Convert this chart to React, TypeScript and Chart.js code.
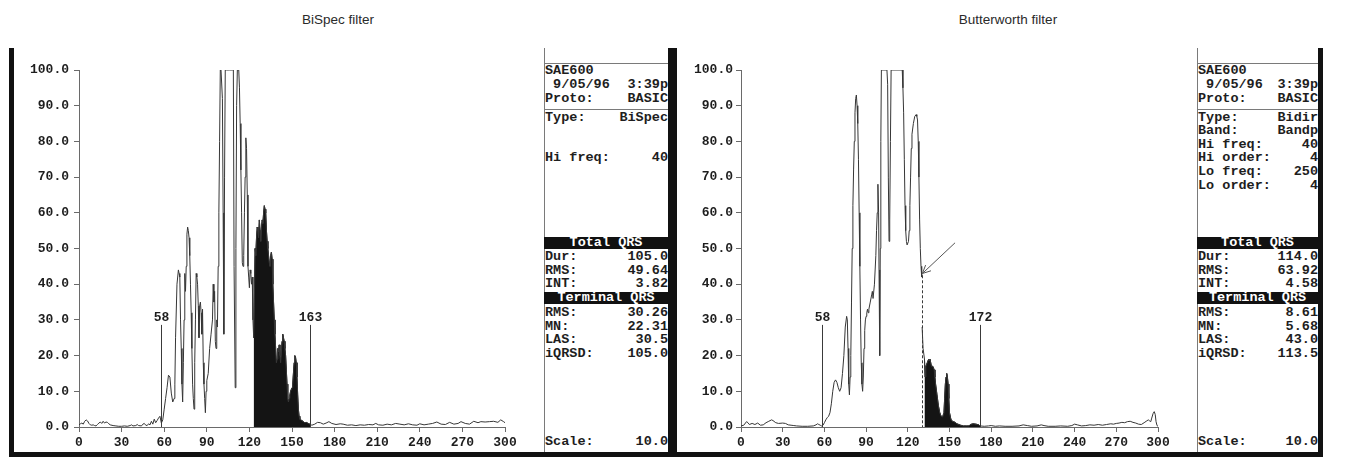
import React, { useEffect, useRef } from "react";
import { Chart, registerables } from "chart.js";

Chart.register(...registerables);

type Pt = [number, number | null];

const xTickValues = [0, 30, 60, 90, 120, 150, 180, 210, 240, 270, 300];
const yTickValues = [0, 10, 20, 30, 40, 50, 60, 70, 80, 90, 100];
const yTickLabels = ["0.0", "10.0", "20.0", "30.0", "40.0", "50.0", "60.0", "70.0", "80.0", "90.0", "100.0"];

const bispecTrace: Pt[] = [
  [0, 0.6], [1, 0.9], [2, 1.1], [3, 0.8], [4, 1.6], [5, 2.0], [6, 1.7], [7, 1.0], [8, 0.6], [9, 0.5], [10, 0.6],
  [11, 0.4], [12, 0.3], [13, 0.7], [14, 1.1], [15, 1.4], [16, 1.0], [17, 1.6], [18, 1.1], [19, 1.4], [20, 1.3],
  [21, 0.9], [22, 0.6], [24, 0.4], [26, 0.3], [28, 0.2], [30, 0.2], [32, 0.3], [34, 0.2], [36, 0.4], [37, 0.6],
  [38, 0.3], [40, 0.4], [41, 0.7], [42, 0.4], [44, 0.3], [45, 0.8], [46, 1.0], [47, 0.5], [48, 0.4], [49, 0.9],
  [50, 0.6], [51, 1.6], [52, 0.8], [53, 2.2], [54, 1.2], [55, 1.8], [56, 2.5], [57, 3.0], [58, 1.1], [59, 2.0],
  [60, 5], [61, 8], [62, 11], [63, 14.5], [64, 14], [65, 9.5], [66, 7], [67, 8], [67.5, 12], [68, 25], [69, 40],
  [70, 44], [70.5, 43], [71, 42], [71.5, 30], [72, 22], [72.5, 12], [73, 7], [73.5, 18], [74, 30], [74.5, 43],
  [75, 38], [75.5, 45], [76, 54], [76.5, 56], [77, 55], [77.5, 53], [78, 48], [78.5, 40], [79, 32], [79.5, 22],
  [80, 12], [80.5, 8], [81, 5], [81.5, 18], [82, 30], [82.5, 43], [83, 42], [83.5, 40], [84, 34], [84.5, 25],
  [85, 34], [85.5, 35], [86, 32], [86.5, 26], [87, 33], [87.5, 18], [88, 12], [88.5, 8], [89, 4], [89.5, 10],
  [90, 13], [91, 15], [92, 22], [93, 26], [94, 30], [94.5, 40], [95, 35], [95.5, 38], [96, 24], [96.5, 22],
  [97, 30], [97.5, 28], [98, 45], [98.5, 60], [99, 80], [99.5, 100], [100, 100], [100.5, 100], [101, 92],
  [101.5, 60], [102, 26], [102.5, 70], [103, 100], [104, 100], [105, 100], [106, 100], [107, 100], [108, 100],
  [108.7, 100], [109.2, 45], [110, 11], [110.5, 50], [111, 90], [111.5, 100], [112.5, 100], [113, 95],
  [113.5, 85], [114, 72], [114.5, 60], [115, 46], [115.5, 45], [116, 48], [116.5, 60], [117, 70], [117.5, 81],
  [118, 78], [118.5, 65], [119, 45], [119.5, 42], [120, 39], [120.5, 44], [121, 43], [121.5, 40], [122, 42],
  [122.5, 30], [123, 25], [123.5, 35], [124, 50], [124.5, 48], [125, 53], [125.5, 56], [126, 55], [126.5, 53],
  [127, 58], [127.5, 55], [128, 52], [128.5, 56], [129, 58], [129.5, 57], [130, 60], [130.5, 62], [131, 61],
  [131.5, 60], [132, 55], [132.5, 52], [133, 50], [134, 46], [134.5, 45], [135, 48], [135.5, 49], [136, 47],
  [136.5, 40], [137, 35], [137.5, 30], [138, 26], [138.5, 22], [139, 18], [139.5, 19], [140, 22], [140.5, 21],
  [141, 23], [141.5, 20], [142, 18], [142.5, 21], [143, 24], [143.5, 26], [144, 25], [144.5, 24], [145, 22],
  [145.5, 20], [146, 16], [146.5, 12], [147, 8], [147.5, 7], [148, 8], [148.5, 9], [149, 10], [150, 11],
  [150.5, 12], [151, 15], [151.5, 18], [152, 20], [152.5, 19.5], [153, 18], [153.5, 14], [154, 9], [154.5, 5],
  [155, 3], [155.5, 2.2], [156, 2], [157, 1.8], [158, 1.5], [159, 1.2], [160, 1.3], [161, 1.1], [162, 0.9],
  [163, 0.7], [164, 0.5], [166, 0.8], [168, 1.3], [170, 1.2], [172, 0.8], [174, 1.1], [176, 1.5], [178, 1.0],
  [181, 0.7], [184, 0.9], [186, 0.8], [189, 0.5], [192, 0.6], [195, 0.4], [198, 0.6], [201, 0.5], [204, 0.7],
  [207, 0.6], [209, 1.0], [211, 0.6], [214, 0.5], [217, 0.8], [220, 0.6], [223, 1.0], [226, 0.8], [229, 0.6],
  [232, 0.9], [235, 0.6], [238, 0.5], [240, 0.9], [243, 0.6], [246, 0.8], [249, 1.0], [252, 1.4], [255, 0.8],
  [258, 0.7], [261, 1.3], [264, 0.8], [267, 1.0], [269, 1.5], [272, 1.0], [275, 0.8], [278, 1.6], [281, 1.2],
  [283, 1.5], [286, 1.4], [289, 1.5], [292, 1.6], [295, 1.3], [297, 2.0], [299, 1.5], [300, 1.2],
];

const butterTrace: Pt[] = [
  [0, 0.3], [2, 0.5], [4, 1.5], [5, 1.2], [6, 0.7], [8, 1.0], [10, 0.7], [12, 1.1], [14, 0.5], [16, 0.6],
  [18, 1.2], [20, 1.6], [22, 2.0], [23, 1.8], [25, 1.2], [27, 1.0], [30, 1.1], [32, 1.0], [34, 0.6], [36, 0.5],
  [38, 0.4], [40, 0.3], [44, 0.2], [48, 0.2], [52, 0.3], [54, 0.6], [55, 0.9], [56, 0.7], [57, 0.5], [58, 0.3],
  [59, 0.5], [60, 1.2], [61, 2.0], [62, 2.6], [63, 3.0], [64, 4.0], [65, 6.5], [66, 10], [67, 12.5], [68, 13.2],
  [69, 12.5], [70, 11], [71, 10], [72, 11], [73, 15], [74, 20], [75, 28], [76, 31], [76.5, 30], [77, 22],
  [77.5, 12], [78, 9], [78.5, 14], [79, 20], [79.5, 35], [80, 50], [80.5, 62], [81, 72], [81.5, 80], [82, 88],
  [82.5, 92], [83, 93], [83.5, 90], [84, 85], [84.5, 75], [85, 60], [85.5, 45], [86, 30], [86.5, 18], [87, 12],
  [87.5, 10], [88, 14], [88.5, 22], [89, 27], [89.5, 30], [90, 31], [90.5, 32], [91, 33], [91.5, 32], [92, 33],
  [93, 35], [94, 37], [94.5, 38], [95, 36], [96, 40], [97, 48], [97.5, 55], [98, 60], [98.5, 68], [99, 60],
  [99.3, 44], [99.8, 20], [100.2, 50], [100.6, 80], [101, 100], [105, 100], [105.5, 96], [106, 70], [106.5, 52],
  [107, 58], [107.5, 80], [108, 100], [116, 100], [116.5, 95], [117, 88], [117.5, 75], [118, 62], [118.5, 55],
  [119, 52], [119.5, 51], [120, 51], [120.5, 52], [121, 55], [121.5, 62], [122, 70], [122.5, 78], [123, 82],
  [124, 85], [125, 87], [126, 87.5], [126.5, 87], [127, 86], [127.5, 80], [128, 70], [128.5, 58], [129, 50],
  [129.5, 45], [130, 42], [130.15, null], [130.3, 28], [131, 22], [132, 19], [132.5, 14], [133, 17], [134, 18],
  [135, 19], [135.5, 18.5], [136, 19], [137, 17], [138, 17], [139, 16], [139.5, 14], [140, 12], [141, 9],
  [142, 6], [143, 4], [144, 3], [145, 2.8], [146, 4], [146.5, 8], [147, 12], [147.5, 14], [148, 15], [148.5, 14],
  [149, 12], [149.5, 8], [150, 4], [151, 2.2], [152, 1.6], [153, 1.5], [154, 1.3], [155, 1.0], [156, 0.8],
  [158, 0.5], [160, 0.3], [162, 0.3], [164, 0.3], [165, 0.7], [167, 0.9], [169, 0.8], [171, 0.6], [172, 0.3],
  [175, 0.2], [178, 0.3], [180, 0.4], [183, 0.2], [186, 0.3], [190, 0.2], [195, 0.2], [200, 0.3], [203, 0.6],
  [206, 0.4], [209, 0.2], [213, 0.3], [216, 0.6], [218, 0.4], [221, 0.2], [226, 0.2], [230, 0.3], [235, 0.2],
  [238, 0.4], [240, 0.8], [242, 0.6], [245, 0.3], [248, 0.4], [251, 0.6], [254, 0.5], [257, 0.7], [260, 0.5],
  [263, 0.7], [266, 0.9], [268, 0.8], [270, 1.0], [272, 1.1], [274, 1.3], [276, 1.2], [278, 1.5], [280, 1.6],
  [282, 1.3], [284, 1.1], [286, 0.8], [288, 0.7], [290, 1.2], [291.5, 1.6], [293, 2.0], [294, 1.7], [294.8, 1.5],
  [295.5, 2.5], [296.5, 3.8], [297.3, 4.3], [298, 3.5], [298.6, 1.5], [299.3, 0.4], [300, 0.2],
];

const bispecTerminal = [123, 163];
const butterTerminal = [132, 172];
const bispecMarkers = [58, 163];
const butterMarkers = [58, 172];
const markerTop = 28.6;
const butterDash = { x: 130, top: 42.5 };
const butterArrow = { fromX: 154, fromY: 51.6, toX: 130.5, toY: 43 };

const bispecHeader: [string, string][] = [["SAE600", ""], [" 9/05/96", "3:39p"], ["Proto:", "BASIC"]];
const bispecSettings: [string, string][] = [["Type:", "BiSpec"], ["", ""], ["", ""], ["Hi freq:", "40"]];
const bispecTotal: [string, string][] = [["Dur:", "105.0"], ["RMS:", "49.64"], ["INT:", "3.82"]];
const bispecTermRows: [string, string][] = [["RMS:", "30.26"], ["MN:", "22.31"], ["LAS:", "30.5"], ["iQRSD:", "105.0"]];
const bispecScale: [string, string] = ["Scale:", "10.0"];

const butterHeader: [string, string][] = [["SAE600", ""], [" 9/05/96", "3:39p"], ["Proto:", "BASIC"]];
const butterSettings: [string, string][] = [
  ["Type:", "Bidir"], ["Band:", "Bandp"], ["Hi freq:", "40"], ["Hi order:", "4"], ["Lo freq:", "250"], ["Lo order:", "4"],
];
const butterTotal: [string, string][] = [["Dur:", "114.0"], ["RMS:", "63.92"], ["INT:", "4.58"]];
const butterTermRows: [string, string][] = [["RMS:", "8.61"], ["MN:", "5.68"], ["LAS:", "43.0"], ["iQRSD:", "113.5"]];
const butterScale: [string, string] = ["Scale:", "10.0"];

const MONO = '"Liberation Mono", "DejaVu Sans Mono", monospace';
const AXIS_COLOR = "#6a6a6a";
const TEXT_COLOR = "#1e1e1e";

interface ChartProps {
  left: number;
  top: number;
  width: number;
  height: number;
  axisWidth: number;
  padRight: number;
  labelPad: number;
  trace: Pt[];
  terminal: number[];
  markers: number[];
  dash?: { x: number; top: number };
  arrow?: { fromX: number; fromY: number; toX: number; toY: number };
}

function SignalChart(p: ChartProps) {
  const ref = useRef<HTMLCanvasElement>(null);
  useEffect(() => {
    const canvas = ref.current;
    if (!canvas) return;
    const pts = p.trace.map(([x, y]) => ({ x, y }));
    const fillPts = p.trace
      .filter(([x, y]) => y !== null && x >= p.terminal[0] && x <= p.terminal[1])
      .map(([x, y]) => ({ x, y }));

    const overlay = {
      id: "overlay",
      afterDatasetsDraw(chart: any) {
        const { ctx } = chart;
        const xs = chart.scales.x;
        const ys = chart.scales.y;
        const y0 = ys.getPixelForValue(0);
        ctx.save();
        ctx.strokeStyle = "#3a3a3a";
        ctx.fillStyle = TEXT_COLOR;
        ctx.lineWidth = 1;
        ctx.font = `bold 13px ${MONO}`;
        ctx.textAlign = "center";
        ctx.textBaseline = "bottom";
        p.markers.forEach((m) => {
          const px = Math.round(xs.getPixelForValue(m)) + 0.5;
          const pt = ys.getPixelForValue(markerTop);
          ctx.beginPath();
          ctx.moveTo(px, y0);
          ctx.lineTo(px, pt);
          ctx.stroke();
          ctx.fillText(String(m), px, pt - 1);
        });
        if (p.dash) {
          const px = Math.round(xs.getPixelForValue(p.dash.x)) + 0.5;
          ctx.setLineDash([3, 2]);
          ctx.beginPath();
          ctx.moveTo(px, ys.getPixelForValue(p.dash.top));
          ctx.lineTo(px, y0);
          ctx.stroke();
          ctx.setLineDash([]);
        }
        if (p.arrow) {
          const ax = xs.getPixelForValue(p.arrow.fromX);
          const ay = ys.getPixelForValue(p.arrow.fromY);
          const bx = xs.getPixelForValue(p.arrow.toX);
          const by = ys.getPixelForValue(p.arrow.toY);
          ctx.strokeStyle = "#555";
          ctx.beginPath();
          ctx.moveTo(ax, ay);
          ctx.lineTo(bx, by);
          const ang = Math.atan2(ay - by, ax - bx);
          const L = 9;
          ctx.moveTo(bx + L * Math.cos(ang + 0.45), by + L * Math.sin(ang + 0.45));
          ctx.lineTo(bx, by);
          ctx.lineTo(bx + L * Math.cos(ang - 0.45), by + L * Math.sin(ang - 0.45));
          ctx.stroke();
        }
        ctx.restore();
      },
    };

    const tickFont = { family: MONO, size: 13, weight: "bold" as const };
    const chart = new Chart(canvas, {
      type: "line",
      data: {
        datasets: [
          {
            data: fillPts as any,
            fill: "origin",
            backgroundColor: "#141414",
            borderColor: "#141414",
            borderWidth: 1,
            pointRadius: 0,
            tension: 0,
            order: 2,
          },
          {
            data: pts as any,
            fill: false,
            borderColor: "#363636",
            borderWidth: 1,
            pointRadius: 0,
            tension: 0,
            spanGaps: false,
            order: 1,
          },
        ],
      },
      options: {
        animation: false,
        responsive: false,
        maintainAspectRatio: false,
        events: [],
        layout: { padding: { left: 0, right: p.padRight, top: 30, bottom: 0 } },
        plugins: { legend: { display: false }, tooltip: { enabled: false }, title: { display: false } },
        scales: {
          x: {
            type: "linear",
            min: 0,
            max: 300,
            afterBuildTicks: (axis: any) => {
              axis.ticks = xTickValues.map((v) => ({ value: v }));
            },
            afterFit: (axis: any) => {
              axis.height = 25;
            },
            ticks: { font: tickFont, color: TEXT_COLOR, padding: 3, maxRotation: 0, autoSkip: false },
            grid: { drawOnChartArea: false, drawTicks: true, tickLength: 5, color: AXIS_COLOR },
            border: { display: true, color: AXIS_COLOR },
          },
          y: {
            type: "linear",
            min: 0,
            max: 100,
            afterBuildTicks: (axis: any) => {
              axis.ticks = yTickValues.map((v) => ({ value: v }));
            },
            afterFit: (axis: any) => {
              axis.width = p.axisWidth;
            },
            ticks: {
              font: tickFont,
              color: TEXT_COLOR,
              padding: p.labelPad,
              autoSkip: false,
              callback: (_v: any, i: number) => yTickLabels[i],
            },
            grid: { drawOnChartArea: false, drawTicks: true, tickLength: 5, color: AXIS_COLOR },
            border: { display: true, color: AXIS_COLOR },
          },
        },
      } as any,
      plugins: [overlay],
    });
    return () => chart.destroy();
  }, []);
  return (
    <canvas
      ref={ref}
      width={p.width}
      height={p.height}
      style={{ position: "absolute", left: p.left, top: p.top, width: p.width, height: p.height }}
    />
  );
}

interface PanelProps {
  left: number;
  width: number;
  header: [string, string][];
  settings: [string, string][];
  total: [string, string][];
  term: [string, string][];
  scale: [string, string];
}

const ROW_H = 13.6;

function Row({ left, width, cy, pair }: { left: number; width: number; cy: number; pair: [string, string] }) {
  return (
    <div
      style={{
        position: "absolute",
        left: left + 1,
        width: width - 1,
        top: cy - 8,
        height: 16,
        lineHeight: "16px",
        display: "flex",
        justifyContent: "space-between",
        whiteSpace: "pre",
        font: `bold 13.5px ${MONO}`,
        color: TEXT_COLOR,
      }}
    >
      <span>{pair[0]}</span>
      <span>{pair[1]}</span>
    </div>
  );
}

function Bar({ left, width, top, text }: { left: number; width: number; top: number; text: string }) {
  return (
    <div
      style={{
        position: "absolute",
        left,
        width,
        top,
        height: 12,
        background: "#111",
        color: "#fff",
        font: `bold 13.5px ${MONO}`,
        lineHeight: "12px",
        textAlign: "center",
        whiteSpace: "pre",
      }}
    >
      {text}
    </div>
  );
}

function Panel(p: PanelProps) {
  const line = "#7a7a7a";
  return (
    <>
      <div style={{ position: "absolute", left: p.left, top: 48, width: 1, height: 404, background: line }} />
      <div style={{ position: "absolute", left: p.left, top: 63, width: p.width, height: 1, background: line }} />
      <div style={{ position: "absolute", left: p.left, top: 109, width: p.width, height: 1, background: line }} />
      {p.header.map((r, i) => (
        <Row key={"h" + i} left={p.left} width={p.width} cy={71 + i * 14} pair={r} />
      ))}
      {p.settings.map((r, i) => (
        <Row key={"s" + i} left={p.left} width={p.width} cy={117.5 + i * ROW_H} pair={r} />
      ))}
      <Bar left={p.left} width={p.width} top={237} text="Total QRS" />
      {p.total.map((r, i) => (
        <Row key={"t" + i} left={p.left} width={p.width} cy={257 + i * ROW_H} pair={r} />
      ))}
      <Bar left={p.left} width={p.width} top={292} text="Terminal QRS" />
      {p.term.map((r, i) => (
        <Row key={"r" + i} left={p.left} width={p.width} cy={313 + i * ROW_H} pair={r} />
      ))}
      <Row left={p.left} width={p.width} cy={442} pair={p.scale} />
    </>
  );
}

export default function App() {
  const title = {
    position: "absolute" as const,
    top: 12,
    width: 300,
    textAlign: "center" as const,
    font: '13.5px "Liberation Sans", Arial, sans-serif',
    color: "#2a2a2a",
  };
  return (
    <div
      style={{
        position: "absolute",
        left: 0,
        top: 0,
        width: 1346,
        height: 457,
        background: "#fff",
        overflow: "hidden",
      }}
    >
      <div style={{ ...title, left: 338 - 150 }}>BiSpec filter</div>
      <div style={{ ...title, left: 1008 - 150 }}>Butterworth filter</div>

      <SignalChart
        left={14}
        top={40}
        width={530}
        height={412}
        axisWidth={65}
        padRight={39}
        labelPad={5}
        trace={bispecTrace}
        terminal={bispecTerminal}
        markers={bispecMarkers}
      />
      <SignalChart
        left={680}
        top={40}
        width={517}
        height={412}
        axisWidth={61}
        padRight={39}
        labelPad={3}
        trace={butterTrace}
        terminal={butterTerminal}
        markers={butterMarkers}
        dash={butterDash}
        arrow={butterArrow}
      />

      <Panel left={544} width={124} header={bispecHeader} settings={bispecSettings} total={bispecTotal} term={bispecTermRows} scale={bispecScale} />
      <Panel left={1197} width={121} header={butterHeader} settings={butterSettings} total={butterTotal} term={butterTermRows} scale={butterScale} />

      <div style={{ position: "absolute", left: 9, top: 48, width: 5, height: 409, background: "#111" }} />
      <div style={{ position: "absolute", left: 668, top: 48, width: 9, height: 409, background: "#111" }} />
      <div style={{ position: "absolute", left: 1318, top: 48, width: 5, height: 409, background: "#111" }} />
      <div style={{ position: "absolute", left: 9, top: 452, width: 1314, height: 5, background: "#111" }} />
    </div>
  );
}
